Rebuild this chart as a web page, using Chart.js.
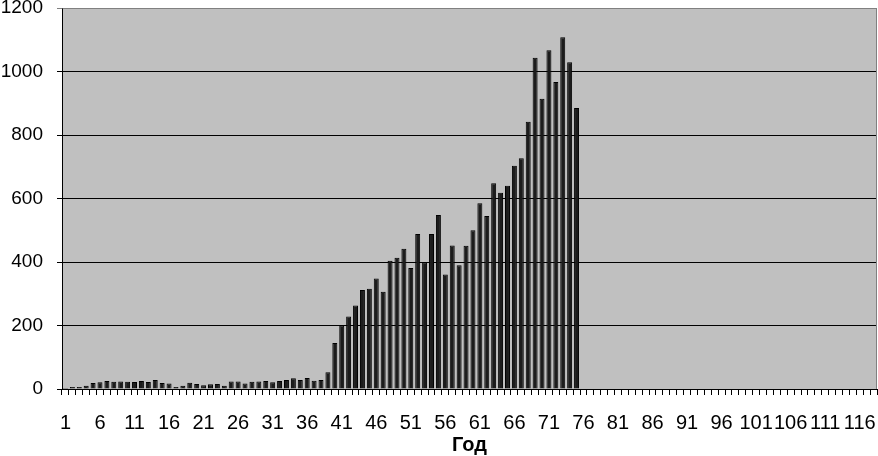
<!DOCTYPE html>
<html>
<head>
<meta charset="utf-8">
<script src="https://cdn.jsdelivr.net/npm/chart.js@4/dist/chart.umd.min.js"></script>
<style>
  html, body { margin: 0; padding: 0; background: #ffffff; }
  #wrap { width: 878px; height: 456px; }
</style>
</head>
<body>
<div id="wrap"><canvas id="c" width="878" height="456"></canvas></div>
<script>
// Categories (years 1..118)
const years = ['1','2','3','4','5','6','7','8','9','10','11','12','13','14','15','16','17','18','19','20',
  '21','22','23','24','25','26','27','28','29','30','31','32','33','34','35','36','37','38','39','40',
  '41','42','43','44','45','46','47','48','49','50','51','52','53','54','55','56','57','58','59','60',
  '61','62','63','64','65','66','67','68','69','70','71','72','73','74','75','76','77','78','79','80',
  '81','82','83','84','85','86','87','88','89','90','91','92','93','94','95','96','97','98','99','100',
  '101','102','103','104','105','106','107','108','109','110','111','112','113','114','115','116','117','118'];

// Series values (years 1..75; later years have no data)
const counts = [3, 6, 6, 10, 19, 21, 25, 23, 24, 23,
  22, 25, 22, 28, 19, 17, 6, 10, 20, 16,
  12, 15, 16, 10, 24, 24, 17, 23, 24, 25,
  21, 25, 28, 34, 28, 35, 26, 28, 53, 145,
  200, 228, 263, 312, 316, 348, 306, 404, 413, 442,
  381, 488, 399, 488, 548, 361, 452, 390, 451, 500,
  585, 545, 648, 618, 640, 703, 727, 842, 1043, 914,
  1067, 967, 1108, 1029, 885];

// Y-axis ticks
const yTicks = [0, 200, 400, 600, 800, 1000, 1200];
const xAxisTitle = 'Год';

const plotBg = {
  id: 'plotBg',
  beforeDraw(chart) {
    const {ctx, chartArea: a} = chart;
    ctx.save();
    ctx.fillStyle = '#c0c0c0';
    ctx.fillRect(a.left, a.top, a.right - a.left, a.bottom - a.top);
    ctx.restore();
  },
  afterDatasetsDraw(chart) {
    const {ctx, chartArea: a} = chart;
    ctx.save();
    ctx.strokeStyle = '#808080';
    ctx.lineWidth = 1;
    ctx.beginPath();
    ctx.moveTo(Math.round(a.left) + 0.5, Math.round(a.top) + 0.5);
    ctx.lineTo(Math.round(a.right) - 0.5, Math.round(a.top) + 0.5);
    ctx.lineTo(Math.round(a.right) - 0.5, Math.round(a.bottom));
    ctx.stroke();
    ctx.restore();
  }
};

const fontFamily = '"Liberation Sans", Arial, sans-serif';

new Chart(document.getElementById('c'), {
  type: 'bar',
  data: {
    labels: years,
    datasets: [{
      data: counts,
      backgroundColor: '#1c1c1c',
      borderColor: '#000000',
      borderWidth: 1,
      borderSkipped: 'start',
      barPercentage: 0.72,
      categoryPercentage: 1.0
    }]
  },
  options: {
    responsive: false,
    animation: false,
    devicePixelRatio: 1,
    layout: { padding: { top: 8, right: 1, left: 0, bottom: 0 } },
    plugins: {
      legend: { display: false },
      tooltip: { enabled: false }
    },
    scales: {
      x: {
        offset: true,
        grid: {
          offset: true,
          drawOnChartArea: false,
          drawTicks: true,
          tickLength: 6,
          color: '#000000',
          lineWidth: 1
        },
        border: { display: true, color: '#000000', width: 1 },
        ticks: {
          autoSkip: false,
          maxRotation: 0,
          minRotation: 0,
          padding: 16,
          color: '#000000',
          font: { family: fontFamily, size: 20 },
          callback: function(value, index) {
            return index % 5 === 0 ? years[index] : '';
          }
        },
        title: {
          display: true,
          text: xAxisTitle,
          color: '#000000',
          font: { family: fontFamily, size: 20, weight: 'bold' },
          padding: { top: 0, bottom: -1 }
        },
        afterFit(scale) {
          scale.height = 67;
          scale.paddingLeft = 0;
          scale.paddingRight = 0;
        }
      },
      y: {
        min: 0,
        max: 1200,
        afterBuildTicks(scale) {
          scale.ticks = yTicks.map(v => ({ value: v }));
        },
        grid: {
          drawOnChartArea: true,
          drawTicks: true,
          tickLength: 5,
          color: (ctx) => (ctx.tick && ctx.tick.value === 1200) ? '#808080' : '#000000',
          lineWidth: 1
        },
        border: { display: true, color: '#000000', width: 1 },
        ticks: {
          padding: 14,
          color: '#000000',
          font: { family: fontFamily, size: 19 },
          callback: (value) => String(value)
        },
        afterFit(scale) {
          scale.width = 62;
          scale.paddingTop = 0;
          scale.paddingBottom = 0;
        }
      }
    }
  },
  plugins: [plotBg]
});
</script>
</body>
</html>
